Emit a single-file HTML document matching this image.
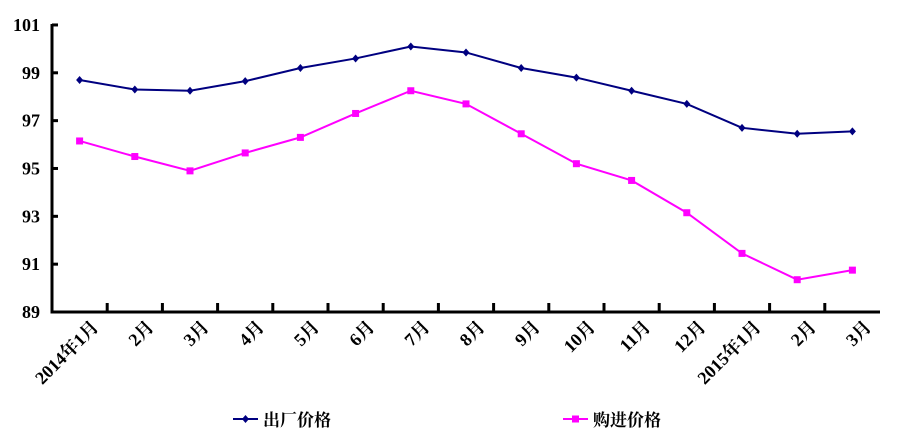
<!DOCTYPE html>
<html><head><meta charset="utf-8"><style>body{margin:0;background:#fff}svg{display:block}text{font-family:"Liberation Serif","Noto Serif CJK SC",serif;font-weight:bold;fill:#000}</style></head><body>
<svg width="900" height="439" viewBox="0 0 900 439" xmlns="http://www.w3.org/2000/svg">
<g id="g"></g>
</svg>
<script>
const NS="http://www.w3.org/2000/svg",g=document.getElementById('g');
function el(t,a,txt){const e=document.createElementNS(NS,t);for(const k in a)e.setAttribute(k,a[k]);if(txt!==undefined)e.textContent=txt;g.appendChild(e);return e;}
const L=52,B=312,dx=55.2,X=i=>L+dx*(i+0.5),Y=v=>B-(v-89)*23.92;
el('line',{x1:L,y1:24,x2:L,y2:B+1.5,stroke:'#000','stroke-width':3});
el('line',{x1:L-1.5,y1:B,x2:880,y2:B,stroke:'#000','stroke-width':3});
for(let v=89;v<=101;v+=2){const y=Y(v);el('line',{x1:L,y1:y,x2:L+6,y2:y,stroke:'#000','stroke-width':3});el('text',{x:40,y:y+6,'text-anchor':'end','font-size':18},v);}
for(let i=1;i<15;i++){const x=L+dx*i;el('line',{x1:x,y1:B,x2:x,y2:B-9,stroke:'#000','stroke-width':3});}
const labs=['2014年1月','2月','3月','4月','5月','6月','7月','8月','9月','10月','11月','12月','2015年1月','2月','3月'];
labs.forEach((s,i)=>{const x=X(i)+20,y=328;el('text',{x:x,y:y,'text-anchor':'end','font-size':18,transform:`rotate(-45 ${x} ${y})`},s);});
const a=[98.7,98.3,98.25,98.65,99.2,99.6,100.1,99.85,99.2,98.8,98.25,97.7,96.7,96.45,96.55];
const b=[96.15,95.5,94.9,95.65,96.3,97.3,98.25,97.7,96.45,95.2,94.5,93.15,91.45,90.35,90.75];
el('polyline',{points:a.map((v,i)=>X(i)+','+Y(v)).join(' '),fill:'none',stroke:'#000080','stroke-width':2});
a.forEach((v,i)=>{const x=X(i),y=Y(v);el('polygon',{points:`${x},${y-4} ${x+3.5},${y} ${x},${y+4} ${x-3.5},${y}`,fill:'#000080'});});
el('polyline',{points:b.map((v,i)=>X(i)+','+Y(v)).join(' '),fill:'none',stroke:'#ff00ff','stroke-width':2});
b.forEach((v,i)=>{const x=X(i),y=Y(v);el('rect',{x:x-3.5,y:y-3.5,width:7,height:7,fill:'#ff00ff'});});
el('line',{x1:233,y1:419,x2:258,y2:419,stroke:'#000080','stroke-width':2});
el('polygon',{points:'245.5,415 249,419 245.5,423 242,419',fill:'#000080'});
el('text',{x:263,y:426,'font-size':17},'出厂价格');
el('line',{x1:563,y1:419,x2:588,y2:419,stroke:'#ff00ff','stroke-width':2});
el('rect',{x:572,y:415.5,width:7,height:7,fill:'#ff00ff'});
el('text',{x:593,y:426,'font-size':17},'购进价格');
</script>
</body></html>
